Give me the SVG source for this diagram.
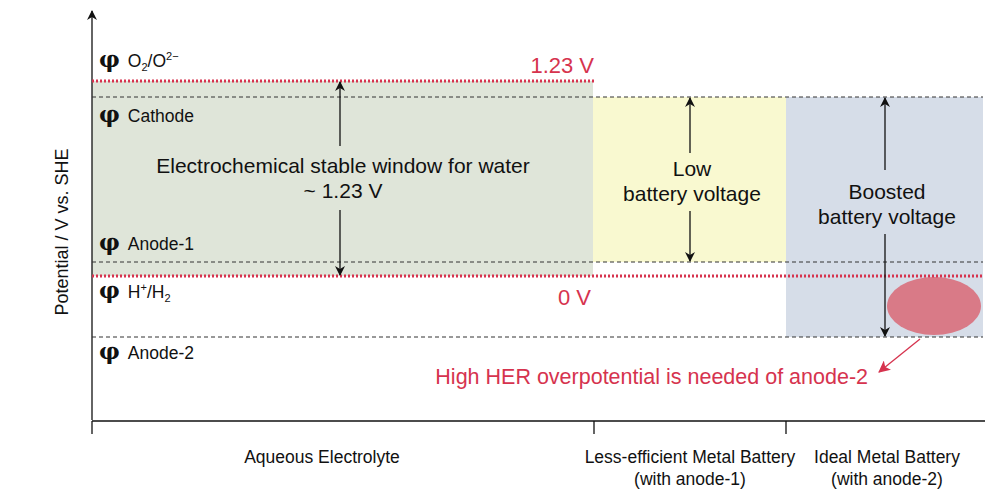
<svg xmlns="http://www.w3.org/2000/svg" width="1000" height="491" viewBox="0 0 1000 491">
<style>
text{font-family:"Liberation Sans",Arial,sans-serif;fill:#111}
.lbl{font-size:17.5px}
.ax{font-size:18px}
.phi{font-size:23px;font-family:"DejaVu Serif",serif;font-weight:bold}
.big{font-size:21px}
.red{fill:#d6334e}
.dash{stroke:#333;stroke-width:1;stroke-dasharray:4,3}
.rdot{stroke:#d6334e;stroke-width:3;stroke-dasharray:2,2}
.ln{stroke:#111;stroke-width:1.3;fill:none}
</style>
<defs>
<marker id="ah" markerWidth="10" markerHeight="10" refX="9" refY="5" orient="auto" markerUnits="userSpaceOnUse"><path d="M0,0 L10,5 L0,10 L3,5Z" fill="#111"/></marker>
<marker id="rh" markerWidth="12" markerHeight="12" refX="11" refY="6" orient="auto" markerUnits="userSpaceOnUse"><path d="M0,0 L12,6 L0,12 L3,6Z" fill="#d6334e"/></marker>
</defs>
<rect width="1000" height="491" fill="#fff"/>
<g id="regions">
<rect x="92" y="81" width="501" height="195" fill="#dfe5d9"/>
<rect x="593" y="97" width="193" height="165" fill="#f9f9d0"/>
<rect x="786" y="97" width="197" height="240" fill="#d6dde8"/>
<ellipse cx="934" cy="306" rx="47" ry="29" fill="#d97a87"/>
</g>
<g id="connectors">
<line class="ln" x1="92" y1="420" x2="92" y2="11" marker-end="url(#ah)"/>
<line class="ln" x1="92" y1="421" x2="985" y2="421"/>
<line class="ln" x1="92" y1="421" x2="92" y2="434"/>
<line class="ln" x1="594" y1="421" x2="594" y2="434"/>
<line class="ln" x1="786" y1="421" x2="786" y2="434"/>
<line class="dash" x1="92" y1="97" x2="983" y2="97"/>
<line class="dash" x1="92" y1="262" x2="983" y2="262"/>
<line class="dash" x1="92" y1="337" x2="983" y2="337"/>
<line class="rdot" x1="92" y1="81" x2="594" y2="81"/>
<line class="rdot" x1="92" y1="276" x2="983" y2="276"/>
<line class="ln" x1="340" y1="146" x2="340" y2="82" marker-end="url(#ah)"/>
<line class="ln" x1="340" y1="210" x2="340" y2="275" marker-end="url(#ah)"/>
<line class="ln" x1="690" y1="153" x2="690" y2="98" marker-end="url(#ah)"/>
<line class="ln" x1="690" y1="211" x2="690" y2="261" marker-end="url(#ah)"/>
<line class="ln" x1="885" y1="170" x2="885" y2="98" marker-end="url(#ah)"/>
<line class="ln" x1="885" y1="234" x2="885" y2="336" marker-end="url(#ah)"/>
<line x1="920" y1="339" x2="879" y2="372" stroke="#d6334e" stroke-width="1.3" marker-end="url(#rh)"/>
</g>
<g id="labels">
<text class="ax" transform="translate(68,232) rotate(-90)" text-anchor="middle">Potential / V vs. SHE</text>
<text x="99" y="67"><tspan class="phi">φ</tspan><tspan class="lbl" dx="8">O</tspan><tspan style="font-size:11px" dy="4">2</tspan><tspan class="lbl" dy="-4">/O</tspan><tspan style="font-size:11px" dy="-7">2−</tspan></text>
<text x="99" y="122"><tspan class="phi">φ</tspan><tspan class="lbl" dx="8">Cathode</tspan></text>
<text x="99" y="250"><tspan class="phi">φ</tspan><tspan class="lbl" dx="8">Anode-1</tspan></text>
<text x="99" y="298"><tspan class="phi">φ</tspan><tspan class="lbl" dx="8">H</tspan><tspan style="font-size:11px" dy="-7">+</tspan><tspan class="lbl" dy="7">/H</tspan><tspan style="font-size:11px" dy="4">2</tspan></text>
<text x="99" y="359"><tspan class="phi">φ</tspan><tspan class="lbl" dx="8">Anode-2</tspan></text>
<text class="big red" x="594" y="73" text-anchor="end" style="font-size:22px">1.23 V</text>
<text class="big red" x="591" y="305" text-anchor="end" style="font-size:22px">0 V</text>
<text class="big" x="343" y="173" text-anchor="middle">Electrochemical stable window for water</text>
<text class="big" x="343" y="198" text-anchor="middle">~ 1.23 V</text>
<text class="big" x="692" y="176" text-anchor="middle">Low</text>
<text class="big" x="692" y="201" text-anchor="middle">battery voltage</text>
<text class="big" x="887" y="199" text-anchor="middle">Boosted</text>
<text class="big" x="887" y="224" text-anchor="middle">battery voltage</text>
<text class="big red" x="868" y="384" text-anchor="end" style="font-size:21.5px">High HER overpotential is needed of anode-2</text>
<text class="lbl" x="322" y="463" text-anchor="middle">Aqueous Electrolyte</text>
<text class="lbl" x="690" y="463" text-anchor="middle">Less-efficient Metal Battery</text>
<text class="lbl" x="690" y="485" text-anchor="middle">(with anode-1)</text>
<text class="lbl" x="887" y="463" text-anchor="middle">Ideal Metal Battery</text>
<text class="lbl" x="887" y="485" text-anchor="middle">(with anode-2)</text>
</g>
</svg>
